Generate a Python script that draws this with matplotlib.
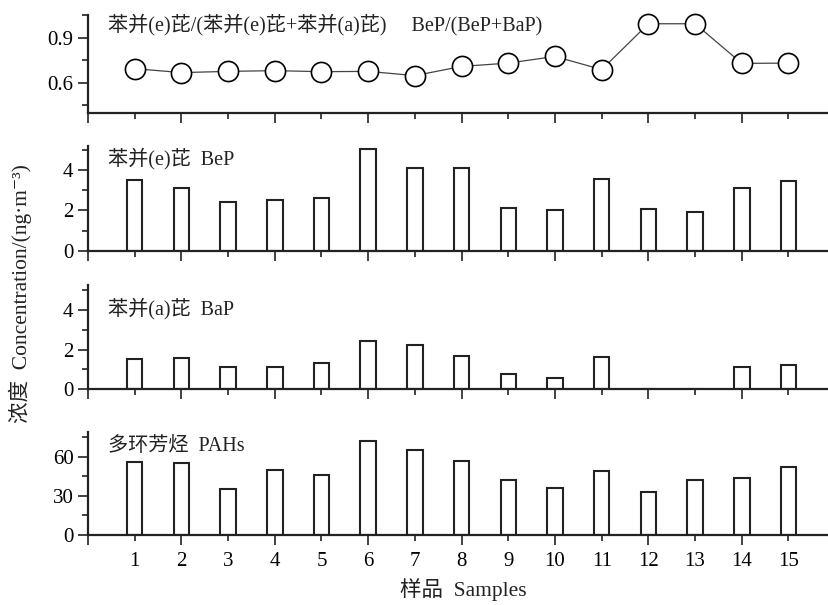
import numpy as np
import matplotlib
matplotlib.use("Agg")
import matplotlib.pyplot as plt
from matplotlib.ticker import MultipleLocator, AutoMinorLocator

plt.rcParams['font.family'] = ['Liberation Serif', 'Noto Sans CJK SC', 'DejaVu Serif']

# data
samples = np.arange(1, 16)
ratio = [0.694, 0.668, 0.676, 0.681, 0.674, 0.676, 0.648, 0.709, 0.731,
         0.775, 0.688, 0.992, 0.992, 0.729, 0.731]
bep = [3.50, 3.12, 2.40, 2.50, 2.62, 5.07, 4.10, 4.12, 2.12, 2.03, 3.58,
       2.07, 1.90, 3.10, 3.47]
bap = [1.52, 1.57, 1.14, 1.14, 1.31, 2.45, 2.24, 1.70, 0.77, 0.56, 1.62,
       0.0, 0.0, 1.14, 1.24]
pahs = [55.6, 55.3, 34.9, 49.9, 45.6, 72.1, 64.8, 56.6, 41.8, 36.2, 49.2,
        33.1, 42.0, 43.8, 52.2]

titles = ['苯并(e)芘/(苯并(e)芘+苯并(a)芘)     BeP/(BeP+BaP)',
          '苯并(e)芘  BeP', '苯并(a)芘  BaP', '多环芳烃  PAHs']

W, H = 829, 605
fig = plt.figure(figsize=(W / 100, H / 100), dpi=100)

# panel boxes in pixels: (top, bottom)
boxes = [(15, 113), (146, 250.7), (285, 389.3), (431.7, 535)]
left = 88
axes = []
for top, bot in boxes:
    ax = fig.add_axes([left / W, 1 - bot / H, (W - left) / W, (bot - top) / H])
    axes.append(ax)

ink = '#222222'
for i, ax in enumerate(axes):
    for s in ['top', 'right']:
        ax.spines[s].set_visible(False)
    for s in ['left', 'bottom']:
        ax.spines[s].set_linewidth(1.6)
        ax.spines[s].set_color(ink)
    ax.set_xlim(0, (W - left) / 46.7)
    last = (i == 3)
    # even positions get the long ticks, odd ones the short ticks
    ax.set_xticks(range(0, 16, 2),
                  labels=[''] + [str(k) for k in range(2, 16, 2)] if last else [])
    ax.set_xticks(range(1, 16, 2),
                  labels=[str(k) for k in range(1, 16, 2)] if last else [], minor=True)
    ax.tick_params(axis='x', which='major', direction='out', length=7.5, width=1.2,
                   color=ink, labelsize=15, pad=4.5)
    ax.tick_params(axis='x', which='minor', direction='out', length=4, width=1.2,
                   color=ink, labelsize=15, pad=8)
    ax.tick_params(axis='y', which='major', direction='out', length=7.5, width=1.2,
                   color=ink, labelsize=15, pad=3)
    ax.tick_params(axis='y', which='minor', direction='out', length=4.5, width=1.2,
                   color=ink)

# ratio panel
ax = axes[0]
ax.plot(samples, ratio, color='#444444', lw=0.9, marker='o', ms=14.5,
        mfc='white', mec='black', mew=1.2, clip_on=False)
ax.set_ylim(0.4, 1.05)
ax.yaxis.set_major_locator(MultipleLocator(0.3))
ax.yaxis.set_minor_locator(AutoMinorLocator(2))

# bar panels
for ax, vals, top in [(axes[1], bep, 5.2), (axes[2], bap, 5.25), (axes[3], pahs, 79)]:
    ax.bar(samples, vals, width=0.33, facecolor='white', edgecolor=ink, lw=1.5)
    ax.set_ylim(0, top)
    ax.yaxis.set_minor_locator(AutoMinorLocator(2))
axes[1].yaxis.set_major_locator(MultipleLocator(2))
axes[2].yaxis.set_major_locator(MultipleLocator(2))
axes[3].yaxis.set_major_locator(MultipleLocator(30))

title_y = [0.9, 0.876, 0.77, 0.852]
for ax, t, y in zip(axes, titles, title_y):
    ax.text(0.027, y, t, transform=ax.transAxes, fontsize=14.5, va='center',
            ha='left', color='#222222')

fig.text(20 / W, 1 - 294 / H, '浓度  Concentration/(ng·m⁻³)', rotation=90,
         ha='center', va='center', fontsize=15.5, color='#222222')
fig.text(463 / W, 1 - 590 / H, '样品  Samples', ha='center', va='center',
         fontsize=15.5, color='#222222')

fig.savefig('out.png', dpi=100)
